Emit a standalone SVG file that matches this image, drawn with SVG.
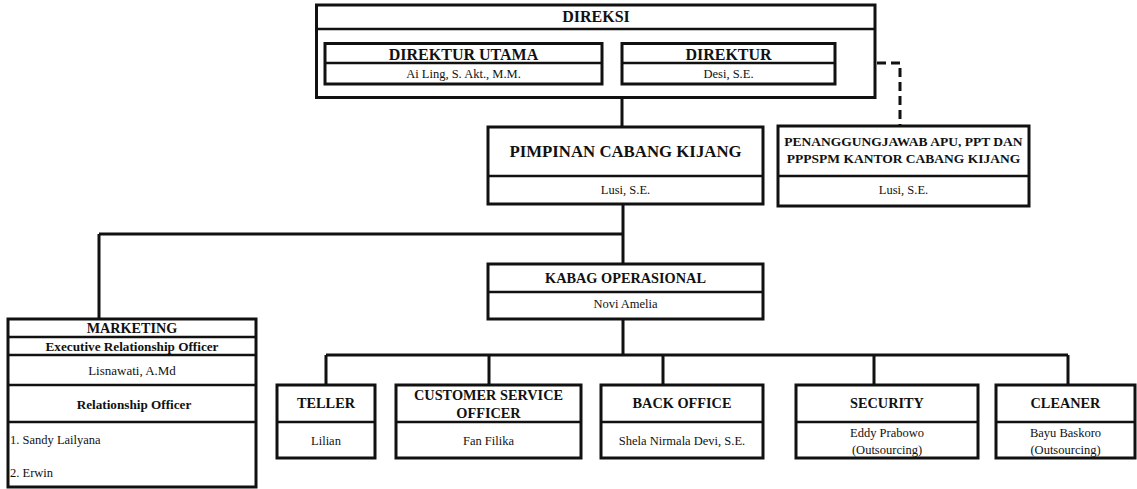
<svg xmlns="http://www.w3.org/2000/svg" width="1137" height="489" viewBox="0 0 1137 489">
<style>
.box{fill:#fff;stroke:#111;stroke-width:3}
.div{stroke:#111;stroke-width:2.5;fill:none}
.con{stroke:#111;stroke-width:3;fill:none}
.dash{stroke:#111;stroke-width:3;fill:none;stroke-dasharray:9 5}
text{font-family:"Liberation Serif","Times New Roman",serif;fill:#111;text-anchor:middle}
.b{font-weight:bold}
.l{text-anchor:start}
</style>
<rect width="1137" height="489" fill="#fff"/>
<g id="connectors">
<path class="con" d="M622 98V127M623 204V264M623 319V355M99 234H623M99 234V319M326 355H1068M326 355V385M489 355V385M663 355V385M874 355V385M1068 355V385"/>
<path class="dash" d="M835 63H900V126"/>
</g>
<g id="direksi">
<rect class="box" x="316.5" y="5" width="558.5" height="92.5"/>
<line class="div" x1="316.5" y1="29" x2="875" y2="29"/>
<text class="b" x="596" y="22" font-size="16">DIREKSI</text>
</g>
<g id="direktur-utama">
<rect class="box" x="325" y="43.5" width="277" height="40.5"/>
<line class="div" x1="325" y1="63" x2="602" y2="63"/>
<text class="b" x="463.5" y="60" font-size="16">DIREKTUR UTAMA</text>
<text x="463.5" y="78" font-size="12.5">Ai Ling, S. Akt., M.M.</text>
</g>
<g id="direktur">
<rect class="box" x="622" y="43.5" width="213" height="40.5"/>
<line class="div" x1="622" y1="63" x2="835" y2="63"/>
<text class="b" x="728.5" y="60" font-size="16">DIREKTUR</text>
<text x="728.5" y="78" font-size="12.5">Desi, S.E.</text>
</g>
<g id="pimpinan">
<rect class="box" x="488" y="127" width="275" height="77"/>
<line class="div" x1="488" y1="176" x2="763" y2="176"/>
<text class="b" x="625.5" y="157" font-size="16.8">PIMPINAN CABANG KIJANG</text>
<text x="625.5" y="194" font-size="12.5">Lusi, S.E.</text>
</g>
<g id="penanggungjawab">
<rect class="box" x="778" y="126" width="251" height="80"/>
<line class="div" x1="778" y1="176" x2="1029" y2="176"/>
<text class="b" x="903.5" y="146" font-size="13.5">PENANGGUNGJAWAB APU, PPT DAN</text>
<text class="b" x="903.5" y="163" font-size="13.5">PPPSPM KANTOR CABANG KIJANG</text>
<text x="903.5" y="194" font-size="12.5">Lusi, S.E.</text>
</g>
<g id="kabag">
<rect class="box" x="488" y="264" width="275" height="55"/>
<line class="div" x1="488" y1="292" x2="763" y2="292"/>
<text class="b" x="625.5" y="283" font-size="14.3">KABAG OPERASIONAL</text>
<text x="625.5" y="308" font-size="12.5">Novi Amelia</text>
</g>
<g id="marketing">
<rect class="box" x="8" y="319" width="248" height="168"/>
<line class="div" x1="8" y1="337" x2="256" y2="337"/>
<line class="div" x1="8" y1="355" x2="256" y2="355"/>
<line class="div" x1="8" y1="385" x2="256" y2="385"/>
<line class="div" x1="8" y1="422" x2="256" y2="422"/>
<text class="b" x="132" y="333" font-size="14.2">MARKETING</text>
<text class="b" x="132" y="351" font-size="13.2">Executive Relationship Officer</text>
<text x="132" y="375" font-size="13">Lisnawati, A.Md</text>
<text class="b" x="134" y="409" font-size="13.2">Relationship Officer</text>
<text class="l" x="10" y="444" font-size="12.5">1. Sandy Lailyana</text>
<text class="l" x="10" y="477" font-size="12.5">2. Erwin</text>
</g>
<g id="teller">
<rect class="box" x="277" y="385" width="98" height="73"/>
<line class="div" x1="277" y1="422" x2="375" y2="422"/>
<text class="b" x="326" y="408" font-size="14.3">TELLER</text>
<text x="326" y="445" font-size="12.5">Lilian</text>
</g>
<g id="cso">
<rect class="box" x="396" y="385" width="185" height="73"/>
<line class="div" x1="396" y1="422" x2="581" y2="422"/>
<text class="b" x="488.5" y="400" font-size="14.3">CUSTOMER SERVICE</text>
<text class="b" x="488.5" y="418" font-size="14.3">OFFICER</text>
<text x="488.5" y="445" font-size="12.5">Fan Filika</text>
</g>
<g id="back-office">
<rect class="box" x="601" y="385" width="162" height="73"/>
<line class="div" x1="601" y1="422" x2="763" y2="422"/>
<text class="b" x="682" y="408" font-size="14.3">BACK OFFICE</text>
<text x="682" y="445" font-size="12.5">Shela Nirmala Devi, S.E.</text>
</g>
<g id="security">
<rect class="box" x="796" y="385" width="182" height="73"/>
<line class="div" x1="796" y1="422" x2="978" y2="422"/>
<text class="b" x="887" y="408" font-size="14.3">SECURITY</text>
<text x="887" y="437" font-size="12.5">Eddy Prabowo</text>
<text x="887" y="454" font-size="12.5">(Outsourcing)</text>
</g>
<g id="cleaner">
<rect class="box" x="996" y="385" width="139" height="73"/>
<line class="div" x1="996" y1="422" x2="1135" y2="422"/>
<text class="b" x="1065.5" y="408" font-size="14.3">CLEANER</text>
<text x="1065.5" y="437" font-size="12.5">Bayu Baskoro</text>
<text x="1065.5" y="454" font-size="12.5">(Outsourcing)</text>
</g>
</svg>
